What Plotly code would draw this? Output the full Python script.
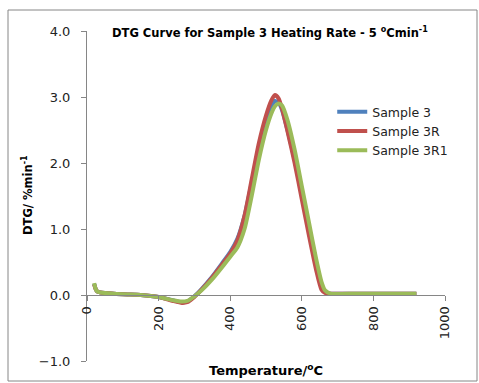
import plotly.graph_objects as go

temps = [20, 25, 30, 50, 100, 150, 200, 240, 265, 280, 300, 320, 350, 380, 400, 420, 440, 460, 480, 500, 515, 525, 535, 545, 560, 580, 600, 620, 640, 655, 665, 680, 750, 850, 920]

sample3 = [0.17, 0.08, 0.05, 0.03, 0.01, 0.0, -0.03, -0.08, -0.11, -0.10, -0.02, 0.09, 0.28, 0.50, 0.65, 0.85, 1.20, 1.70, 2.20, 2.62, 2.85, 2.94, 2.92, 2.80, 2.50, 2.05, 1.55, 1.00, 0.45, 0.12, 0.04, 0.02, 0.02, 0.02, 0.02]
sample3R = [0.16, 0.08, 0.05, 0.03, 0.01, 0.0, -0.03, -0.09, -0.12, -0.11, -0.03, 0.08, 0.27, 0.48, 0.63, 0.83, 1.20, 1.75, 2.30, 2.72, 2.95, 3.03, 2.98, 2.82, 2.48, 2.00, 1.45, 0.90, 0.38, 0.08, 0.03, 0.02, 0.02, 0.02, 0.02]
sample3R1 = [0.18, 0.08, 0.05, 0.03, 0.01, 0.0, -0.03, -0.08, -0.10, -0.09, -0.02, 0.07, 0.24, 0.44, 0.58, 0.72, 1.00, 1.50, 2.05, 2.50, 2.75, 2.86, 2.90, 2.87, 2.65, 2.20, 1.65, 1.10, 0.55, 0.20, 0.07, 0.02, 0.02, 0.02, 0.02]

names = ["Sample 3", "Sample 3R", "Sample 3R1"]
colors = ["#4F81BD", "#C0504D", "#9BBB59"]
series = [sample3, sample3R, sample3R1]

FONT = "DejaVu Sans"
fig = go.Figure()
for n, c, s in zip(names, colors, series):
    fig.add_trace(go.Scatter(x=temps, y=s, name=n, mode="lines",
                             line=dict(color=c, width=4, shape="spline", smoothing=0.6)))

axcol = "#868686"
fig.update_layout(
    width=479, height=383,
    margin=dict(l=87, r=34, t=31, b=22),
    paper_bgcolor="white", plot_bgcolor="white",
    font=dict(family=FONT, color="#222222", size=13),
    showlegend=True,
    legend=dict(x=0.685, y=0.80, xanchor="left", yanchor="top",
                font=dict(family=FONT, size=12.5, color="#222222"),
                bgcolor="rgba(0,0,0,0)", tracegroupgap=0, itemwidth=30),
    xaxis=dict(range=[0, 1000], dtick=200, tick0=0, anchor="free", position=0.2,
               showgrid=False, zeroline=False, showline=True, linecolor=axcol, linewidth=1,
               ticks="outside", ticklen=5, tickcolor=axcol, tickangle=-90,
               tickfont=dict(family=FONT, size=13, color="#222222")),
    yaxis=dict(range=[-1, 4], dtick=1, tick0=-1, tickformat=".1f",
               showgrid=False, zeroline=False, showline=True, linecolor=axcol, linewidth=1,
               ticks="outside", ticklen=5, tickcolor=axcol, ticklabelstandoff=8,
               tickfont=dict(family=FONT, size=13, color="#222222")),
    shapes=[dict(type="rect", xref="paper", yref="paper",
                 x0=(8 - 87) / 358, x1=(477 - 87) / 358,
                 y0=(361 - 381) / 330, y1=(361 - 10) / 330,
                 line=dict(color=axcol, width=1), fillcolor="rgba(0,0,0,0)", layer="below")],
    annotations=[
        dict(text="<b>DTG Curve for Sample 3 Heating Rate - 5 <sup>o</sup>Cmin<sup>-1</sup></b>",
             xref="paper", yref="paper", x=(270 - 87) / 358, y=(361 - 32) / 330,
             xanchor="center", yanchor="middle", showarrow=False,
             font=dict(family=FONT, size=11.5, color="#000000")),
        dict(text="<b>Temperature/<sup>o</sup>C</b>",
             xref="paper", yref="paper", x=(266 - 87) / 358, y=(361 - 370) / 330,
             xanchor="center", yanchor="middle", showarrow=False,
             font=dict(family=FONT, size=13, color="#000000")),
        dict(text="<b>DTG/ %min<sup>-1</sup></b>", textangle=-90,
             xref="paper", yref="paper", x=(27 - 87) / 358, y=(361 - 195) / 330,
             xanchor="center", yanchor="middle", showarrow=False,
             font=dict(family=FONT, size=11.5, color="#000000")),
    ],
)

fig.write_html("out.html")
